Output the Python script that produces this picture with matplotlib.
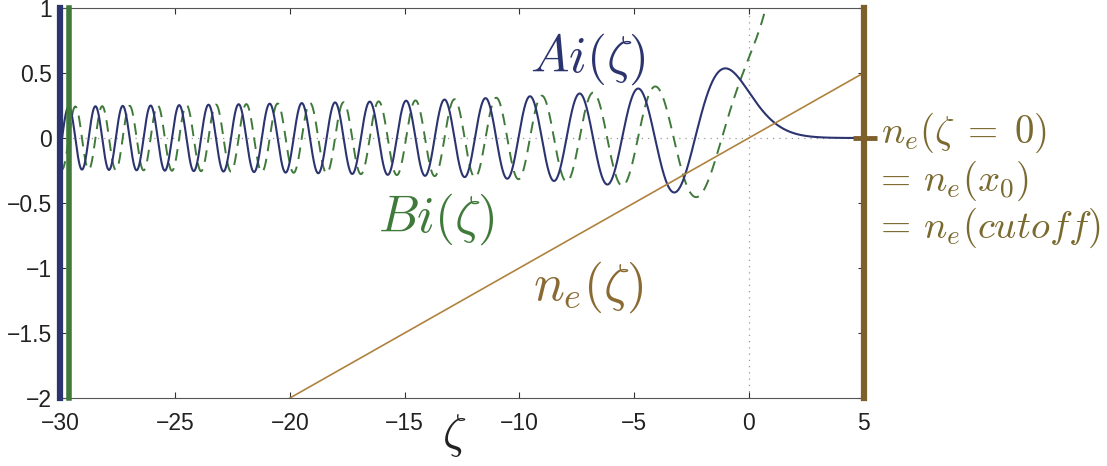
import numpy as np
import matplotlib
matplotlib.use("Agg")
import matplotlib.pyplot as plt

# Axis range and ticks
zeta_range = [-30.0, 5.0]
y_range = [-2.0, 1.0]
x_ticks = [-30, -25, -20, -15, -10, -5, 0, 5]
y_ticks = [-2, -1.5, -1, -0.5, 0, 0.5, 1]

# Airy function values and slopes at zeta = 0
ai_0, ai_prime_0 = 0.355028053887817239, -0.258819403792806798
bi_0, bi_prime_0 = 0.614926627446000736, 0.448288357353826357

# Linear density profile n_e(zeta): end points
ne_zeta = [-20.0, 5.0]
ne_value = [-2.0, 0.5]

# Reference markers
marker_zeta = [-30.0, -29.65, 5.0]
cutoff_level = 0.0


def airy_branch(z_end, h=0.002):
    """Integrate y'' = z*y from z=0 to z_end (RK4) for Ai and Bi together."""
    n = int(round(abs(z_end) / h))
    dz = z_end / n
    zs = np.empty(n + 1)
    ai = np.empty(n + 1)
    bi = np.empty(n + 1)
    a, da, b, db = ai_0, ai_prime_0, bi_0, bi_prime_0
    z = 0.0
    zs[0], ai[0], bi[0] = z, a, b
    for i in range(1, n + 1):
        k1a, k1da = da, z * a
        k1b, k1db = db, z * b
        zm = z + 0.5 * dz
        a2, da2 = a + 0.5 * dz * k1a, da + 0.5 * dz * k1da
        b2, db2 = b + 0.5 * dz * k1b, db + 0.5 * dz * k1db
        k2a, k2da = da2, zm * a2
        k2b, k2db = db2, zm * b2
        a3, da3 = a + 0.5 * dz * k2a, da + 0.5 * dz * k2da
        b3, db3 = b + 0.5 * dz * k2b, db + 0.5 * dz * k2db
        k3a, k3da = da3, zm * a3
        k3b, k3db = db3, zm * b3
        ze = z + dz
        a4, da4 = a + dz * k3a, da + dz * k3da
        b4, db4 = b + dz * k3b, db + dz * k3db
        k4a, k4da = da4, ze * a4
        k4b, k4db = db4, ze * b4
        a += dz / 6.0 * (k1a + 2 * k2a + 2 * k3a + k4a)
        da += dz / 6.0 * (k1da + 2 * k2da + 2 * k3da + k4da)
        b += dz / 6.0 * (k1b + 2 * k2b + 2 * k3b + k4b)
        db += dz / 6.0 * (k1db + 2 * k2db + 2 * k3db + k4db)
        z = ze
        zs[i], ai[i], bi[i] = z, a, b
    return zs, ai, bi


zn, ain, bin_ = airy_branch(zeta_range[0])
zp, aip, bip = airy_branch(zeta_range[1])
zeta = np.concatenate([zn[::-1], zp[1:]])
ai_vals = np.concatenate([ain[::-1], aip[1:]])
bi_vals = np.concatenate([bin_[::-1], bip[1:]])

navy = "#2c3470"
green = "#3f7a3a"
tan = "#b0823f"
brown = "#7d5f2c"
text_brown = "#8a6a32"
label_olive = "#7a6a30"

plt.rcParams["mathtext.fontset"] = "cm"
plt.rcParams["font.family"] = ["Liberation Sans", "DejaVu Sans"]

fig = plt.figure(figsize=(11.07, 4.66), dpi=100)
W, H = 1107, 466
ax = fig.add_axes([60.5 / W, 1 - 398 / H, (863.5 - 60.5) / W, (398 - 8) / H])

ax.axhline(cutoff_level, color="#9a9a9a", ls=(0, (1, 4)), lw=0.9, zorder=1)
ax.axvline(0, color="#9a9a9a", ls=(0, (1, 4)), lw=0.9, zorder=1)

ax.plot(zeta, bi_vals, color=green, lw=1.4, ls=(0, (6, 4)), zorder=2)
ax.plot(zeta, ai_vals, color=navy, lw=1.5, zorder=3)
ax.plot(ne_zeta, ne_value, color=tan, lw=1.2, zorder=4)

# Thick bars marking the ends of the domain
ax.axvline(marker_zeta[0], color=navy, lw=4.5, clip_on=False, zorder=5)
ax.axvline(marker_zeta[1], color=green, lw=4.0, clip_on=False, zorder=5)
ax.axvline(marker_zeta[2], color=brown, lw=4.5, clip_on=False, zorder=5)
ax.plot([4.56, 5.57], [cutoff_level, cutoff_level], color=brown, lw=3.5,
        clip_on=False, solid_capstyle="butt", zorder=6)

ax.set_xlim(*zeta_range)
ax.set_ylim(*y_range)
ax.set_xticks(x_ticks)
ax.set_yticks(y_ticks)
ax.set_yticklabels(["\u22122", "\u22121.5", "\u22121", "\u22120.5", "0", "0.5", "1"])
ax.set_xticklabels(["\u221230", "\u221225", "\u221220", "\u221215", "\u221210", "\u22125", "0", "5"])
ax.tick_params(direction="in", length=4, width=0.8, top=True, right=True,
               labelsize=16.5, colors="#333333", labelcolor="#222222")
ax.tick_params(axis="x", pad=10)
ax.tick_params(axis="y", pad=6)
for s in ax.spines.values():
    s.set_color("#555555")
    s.set_linewidth(0.8)

ax.text(-7.0, 0.608, r"$Ai(\zeta)$", color=navy, fontsize=37, ha="center", va="center")
ax.text(-13.62, -0.623, r"$Bi(\zeta)$", color=green, fontsize=37, ha="center", va="center")
ax.text(-7.0, -1.146, r"$n_e(\zeta)$", color=text_brown, fontsize=37, ha="center", va="center")
ax.text(-12.83, -2.285, r"$\zeta$", color="#222222", fontsize=34, ha="center", va="center",
        clip_on=False)

for xv, yv, s in zip([5.78, 5.45, 5.45], [0.04, -0.33, -0.69],
                     [r"$n_e(\zeta\;=\;0)$", r"${=}\,n_e(x_0)$", r"${=}\,n_e(cutoff)$"]):
    ax.text(xv, yv, s, color=label_olive, fontsize=28, ha="left", va="center",
            clip_on=False)

fig.savefig("out.png", dpi=100)
